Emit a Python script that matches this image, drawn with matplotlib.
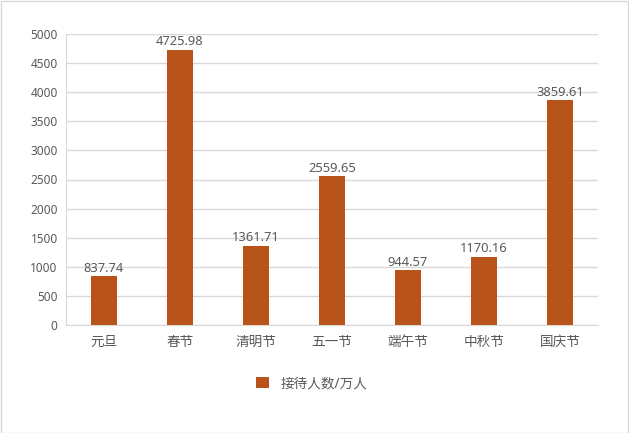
import numpy as np
import matplotlib
matplotlib.use('Agg')
import matplotlib.pyplot as plt
from matplotlib.patches import Rectangle

plt.rcParams['font.family'] = ['Noto Sans', 'Noto Sans CJK SC', 'DejaVu Sans']

holidays = ['元旦', '春节', '清明节', '五一节', '端午节', '中秋节', '国庆节']
visitors = [837.74, 4725.98, 1361.71, 2559.65, 944.57, 1170.16, 3859.61]
yticks = [0, 500, 1000, 1500, 2000, 2500, 3000, 3500, 4000, 4500, 5000]

bar_color = '#B8541A'
text_color = '#595959'

fig = plt.figure(figsize=(6.29, 4.33), dpi=100)
ax = fig.add_axes([66 / 629, 1 - 325 / 433, (598 - 66) / 629, (325 - 34) / 433])

x = np.arange(len(holidays))
bars = ax.bar(x, visitors, width=0.35, color=bar_color, label='接待人数/万人', zorder=3)
for xi, v in zip(x, visitors):
    ax.text(xi, v + 25, '%.2f' % v, ha='center', va='bottom', fontsize=9.3, color=text_color)

ax.set_xlim(-0.5, len(holidays) - 0.5)
ax.set_ylim(0, 5000)
ax.set_yticks(yticks)
ax.set_xticks(x)
ax.set_xticklabels(holidays, fontsize=9.8)
ax.tick_params(axis='both', length=0, colors=text_color)
ax.tick_params(axis='y', labelsize=8.5, pad=6)
ax.tick_params(axis='x', pad=7)
ax.grid(axis='y', color='#D9D9D9', linewidth=1, zorder=0)
for s in ['top', 'right']:
    ax.spines[s].set_visible(False)
ax.spines['left'].set_color('#D9D9D9')
ax.spines['bottom'].set_color('#D9D9D9')

leg = fig.legend(handles=[bars], labels=['接待人数/万人'], loc='center',
                 bbox_to_anchor=(312 / 629, 1 - 384 / 433), frameon=False,
                 fontsize=9.8, handlelength=0.9, handleheight=0.9, handletextpad=0.9)
for t in leg.get_texts():
    t.set_color(text_color)

fig.patches.append(Rectangle((0.5 / 629, 0.5 / 433), 1 - 1.5 / 629, 1 - 1.5 / 433,
                             transform=fig.transFigure, fill=False,
                             edgecolor='#D9D9D9', linewidth=1))

fig.savefig('out.png', dpi=100)
